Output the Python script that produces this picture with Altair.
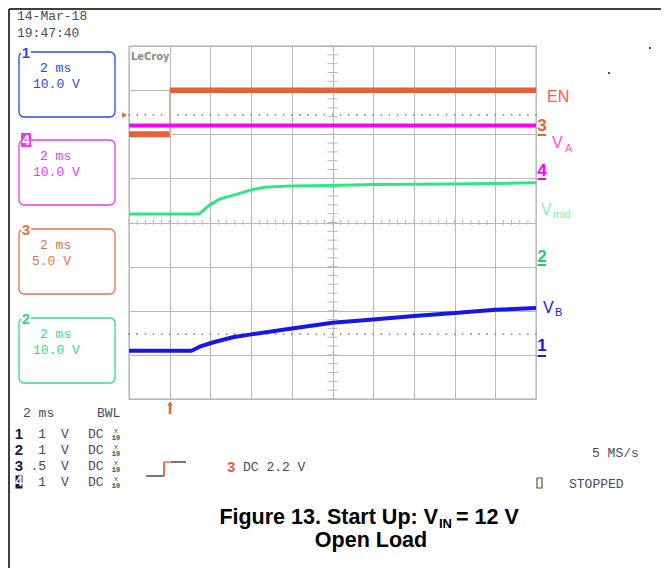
import altair as alt
import pandas as pd
import numpy as np

# ---------------- data ----------------
time_grid_ms = [-2, 0, 2, 4, 6, 8, 10, 12, 14, 16, 18]
div_grid = [-4, -3, -2, -1, 0, 1, 2, 3, 4]

# volts / division and ground-marker offset (divisions from screen centre)
ch_scale = {"1": 10.0, "2": 10.0, "3": 5.0, "4": 10.0}
ch_offset = {"1": -3.0, "2": -1.0, "3": 2.0, "4": 1.0}

# Ch3  EN (orange) : two segments, low then high
en_low_t = [-2, 0]
en_low_v = [0.0, 0.0]
en_high_t = [0, 18]
en_high_v = [5.0, 5.0]

# Ch4  VA (magenta)
va_t = [-2, 18]
va_v = [12.0, 12.0]

# Ch2  Vmid (green)
vmid_t = [-2, 1.43, 1.97, 2.46, 3.44, 4.08, 4.67, 6.0, 7.96, 9.98, 13.96, 18.0]
vmid_v = [11.9, 11.9, 14.0, 15.3, 16.6, 17.5, 18.0, 18.3, 18.4, 18.6, 18.7, 19.0]

# Ch1  VB (blue)
vb_t = [-2, 1.07, 1.47, 2.11, 3.1, 4.0, 6.0, 8.0, 10.0, 12.0, 14.0, 16.0, 18.0]
vb_v = [0.93, 0.93, 1.85, 2.8, 4.0, 4.65, 6.0, 7.3, 8.0, 8.8, 9.5, 10.2, 10.6]

trigger_level_v = 2.2          # on Ch3
ref_dotted_div = -2.53         # lower dotted reference line

# ---------------- styling ----------------
BLUE = "#1616e8"
MAG = "#ff00ff"
ORANGE = "#e8603a"
GREEN = "#2ee682"
GRID = "#b8b8b8"
TXT = "#4a4a58"
MONO = "Liberation Mono"
SANS = "Liberation Sans"

W, H = 407, 353
OX, OY = 129, 46           # plot-area origin in the page picture

X_SCALE = alt.Scale(domain=[-2, 18], nice=False, zero=False)
Y_SCALE = alt.Scale(domain=[-4, 4], nice=False, zero=False)
AX_X = alt.Axis(values=time_grid_ms, grid=True, gridColor=GRID, gridWidth=1,
                domain=False, ticks=False, labels=False, title=None)
AX_Y = alt.Axis(values=div_grid, grid=True, gridColor=GRID, gridWidth=1,
                domain=False, ticks=False, labels=False, title=None)


def to_div(ch, volts):
    return [ch_offset[ch] + v / ch_scale[ch] for v in volts]


def trace(t, v, ch, color, width):
    df = pd.DataFrame({"t": t, "div": to_div(ch, v)})
    return alt.Chart(df).mark_line(color=color, strokeWidth=width, strokeJoin="round").encode(
        x=alt.X("t:Q", scale=X_SCALE, axis=AX_X),
        y=alt.Y("div:Q", scale=Y_SCALE, axis=AX_Y),
    )


ONE = pd.DataFrame({"k": [0]})


def txt(s, X, Y, color=TXT, size=13, font=MONO, weight="normal", align="left", baseline="middle"):
    return alt.Chart(ONE).mark_text(color=color, fontSize=size, font=font, fontWeight=weight,
                                    align=align, baseline=baseline).encode(
        x=alt.value(X - OX), y=alt.value(Y - OY), text=alt.value(s))


def seg(X1, Y1, X2, Y2, color, width=1.0):
    return alt.Chart(ONE).mark_rule(color=color, strokeWidth=width).encode(
        x=alt.value(X1 - OX), y=alt.value(Y1 - OY), x2=alt.value(X2 - OX), y2=alt.value(Y2 - OY))


def box(X1, Y1, X2, Y2, stroke, fill="white", width=1.3, radius=5):
    return alt.Chart(ONE).mark_rect(fill=fill, stroke=stroke, strokeWidth=width, cornerRadius=radius).encode(
        x=alt.value(X1 - OX), y=alt.value(Y1 - OY), x2=alt.value(X2 - OX), y2=alt.value(Y2 - OY))


def pt(X, Y, shape, color, size):
    return alt.Chart(ONE).mark_point(shape=shape, filled=True, color=color, size=size, opacity=1).encode(
        x=alt.value(X - OX), y=alt.value(Y - OY))


layers = []

# dotted reference lines (trigger level and lower reference)
dot_t = list(np.arange(-2, 18.01, 0.4))
trig_div = ch_offset["3"] + trigger_level_v / ch_scale["3"]
dots = pd.DataFrame({"t": dot_t * 2, "div": [trig_div] * len(dot_t) + [ref_dotted_div] * len(dot_t)})
layers.append(alt.Chart(dots).mark_square(size=2.5, color="#8a8a8a", opacity=1).encode(
    x=alt.X("t:Q", scale=X_SCALE, axis=AX_X), y=alt.Y("div:Q", scale=Y_SCALE, axis=AX_Y)))

# centre graticule minor ticks
ht = pd.DataFrame({"t": list(np.arange(-2, 18.01, 0.4))})
ht["y1"] = -0.055
ht["y2"] = 0.06
layers.append(alt.Chart(ht).mark_rule(color=GRID, strokeWidth=1).encode(
    x=alt.X("t:Q", scale=X_SCALE, axis=AX_X), y=alt.Y("y1:Q", scale=Y_SCALE, axis=AX_Y), y2="y2:Q"))
vt = pd.DataFrame({"div": list(np.arange(-4, 4.01, 0.2))})
vt["x1"] = 7.75
vt["x2"] = 8.25
layers.append(alt.Chart(vt).mark_rule(color=GRID, strokeWidth=1).encode(
    y=alt.Y("div:Q", scale=Y_SCALE, axis=AX_Y), x=alt.X("x1:Q", scale=X_SCALE, axis=AX_X), x2="x2:Q"))

# traces
layers.append(trace(vmid_t, vmid_v, "2", GREEN, 3))
layers.append(trace(vb_t, vb_v, "1", BLUE, 4))
layers.append(trace(en_low_t, en_low_v, "3", ORANGE, 6))
layers.append(trace(en_high_t, en_high_v, "3", ORANGE, 5.5))
edge = pd.DataFrame({"t": [0, 0], "div": to_div("3", [en_low_v[1], en_high_v[0]])})
layers.append(alt.Chart(edge).mark_line(color="#f0a080", strokeWidth=1.2).encode(
    x=alt.X("t:Q", scale=X_SCALE, axis=AX_X), y=alt.Y("div:Q", scale=Y_SCALE, axis=AX_Y)))
layers.append(trace(va_t, va_v, "4", MAG, 4))

# ---------------- decorations ----------------
# page frame
layers.append(seg(9, 9, 669, 9, "#000000", 1.5))
layers.append(seg(9, 9, 9, 576, "#000000", 1.5))

layers.append(txt("14-Mar-18", 17, 16))
layers.append(txt("19:47:40", 17, 33))

# channel boxes: (digit, top, bottom, colour, line1, line2, x2nd)
boxes = [("1", 52, 117, "#2a48ea", "2 ms", "10.0 V", 33),
         ("4", 140, 205, "#f038f0", "2 ms", "10.0 V", 33),
         ("3", 229, 294, "#e8704c", "2 ms", "5.0 V", 32),
         ("2", 318, 383, "#3ad88a", "2 ms", "10.0 V", 33)]
for d, top, bot, col, l1, l2, x2 in boxes:
    layers.append(box(19, top, 115, bot, col))
    if d == "4":
        layers.append(box(21, top - 7, 31, top + 7, col, fill=col, width=0, radius=0))
        layers.append(txt(d, 26, top + 0.5, "white", 14, SANS, "bold", "center"))
    else:
        layers.append(box(21, top - 6, 31, top + 6, "white", fill="white", width=0, radius=0))
        layers.append(txt(d, 26, top + 1, col, 15, SANS, "bold", "center"))
    layers.append(txt(l1, 40, top + 16, col))
    layers.append(txt(l2, x2, top + 32, col))

# LeCroy logo
layers.append(txt("LeCroy", 131, 57, "#8c8c8c", 11, "DejaVu Sans Condensed", "bold"))

# right-hand markers
markers = [("3", 126, 135, ORANGE), ("4", 171, 179, MAG), ("2", 257, 265, "#22cc66"), ("1", 346, 356, BLUE)]
for d, yc, yu, col in markers:
    layers.append(txt(d, 542, yc, col, 17, SANS, "bold", "center"))
    layers.append(seg(537.5, yu, 546, yu, col, 2))

layers.append(txt("EN", 547, 97, "#ff5a48", 16, SANS))
layers.append(txt("V", 552, 143, "#ff50d8", 16, SANS))
layers.append(txt("A", 565, 149, "#ff50d8", 11, SANS))
layers.append(txt("V", 541, 210, "#88f0aa", 16, SANS))
layers.append(txt("mid", 553, 215, "#88f0aa", 11, SANS))
layers.append(txt("V", 543, 308, BLUE, 16, SANS))
layers.append(txt("B", 555, 313, BLUE, 11, SANS))

# trigger arrows
layers.append(pt(124.5, 115, "triangle-right", ORANGE, 30))
layers.append(seg(170, 405, 170, 414, ORANGE, 2.5))
layers.append(pt(170, 403.5, "triangle-up", ORANGE, 30))

# small stray dots top-right
layers.append(alt.Chart(ONE).mark_square(size=4, color="#555555", opacity=1).encode(
    x=alt.value(650 - OX), y=alt.value(48 - OY)))
layers.append(alt.Chart(ONE).mark_square(size=4, color="#555555", opacity=1).encode(
    x=alt.value(609 - OX), y=alt.value(73 - OY)))

# bottom-left info block
layers.append(txt("2 ms", 23, 413))
layers.append(txt("BWL", 97, 413))
rows = [("1", "1", 434), ("2", "1", 450), ("3", ".5", 466), ("4", "1", 482)]
for d, val, y in rows:
    if d == "4":
        layers.append(box(15.5, y - 6.5, 22.5, y + 6.5, "#1a1a3a", fill="#1a1a3a", width=0, radius=0))
        layers.append(txt(d, 19, y, "white", 14, SANS, "bold", "center"))
    else:
        layers.append(txt(d, 19, y, "#1a1a3a", 15, SANS, "bold", "center"))
    layers.append(txt(val, 46, y, TXT, 13, MONO, "normal", "right"))
    layers.append(txt("V", 65, y, TXT, 13, MONO, "normal", "center"))
    layers.append(txt("DC", 88, y, TXT, 13, MONO))
    layers.append(txt("x", 116, y - 3, TXT, 7, MONO, "normal", "center"))
    layers.append(txt("10", 116, y + 4, TXT, 7, MONO, "bold", "center"))

# trigger step symbol
layers.append(seg(146, 476, 164, 476, "#2a2a4a", 1.3))
layers.append(seg(164, 476, 164, 462, ORANGE, 1.8))
layers.append(seg(164, 462, 171, 462, ORANGE, 1.3))
layers.append(seg(171, 462, 186, 462, "#2a2a4a", 1.3))
layers.append(txt("3", 227, 467, ORANGE, 15, SANS, "bold"))
layers.append(txt("DC 2.2 V", 243, 467))

# right-bottom status
layers.append(txt("5 MS/s", 592, 453))
layers.append(box(537, 478, 542, 488, "#5a5a2a", fill="white", width=1.2, radius=0))
layers.append(txt("STOPPED", 569, 484))

# figure caption
layers.append(txt("Figure 13. Start Up: V", 438, 518, "#000000", 21.5, SANS, "bold", "right"))
layers.append(txt("IN", 439, 524, "#000000", 13, SANS, "bold"))
layers.append(txt("= 12 V", 456, 518, "#000000", 21.5, SANS, "bold"))
layers.append(txt("Open Load", 371, 541, "#000000", 21.5, SANS, "bold", "center"))

chart = alt.layer(*layers).properties(
    width=W, height=H,
    padding={"left": OX - 8, "top": OY - 8, "right": 669 - 16 - (OX - 8) - W, "bottom": 576 - 16 - (OY - 8) - H},
    autosize=alt.AutoSizeParams(type="none"),
    background="white",
).configure_view(stroke="#a8a8a8", strokeWidth=1.3)

chart.save("out.html", embed_options={"renderer": "svg", "actions": False})
